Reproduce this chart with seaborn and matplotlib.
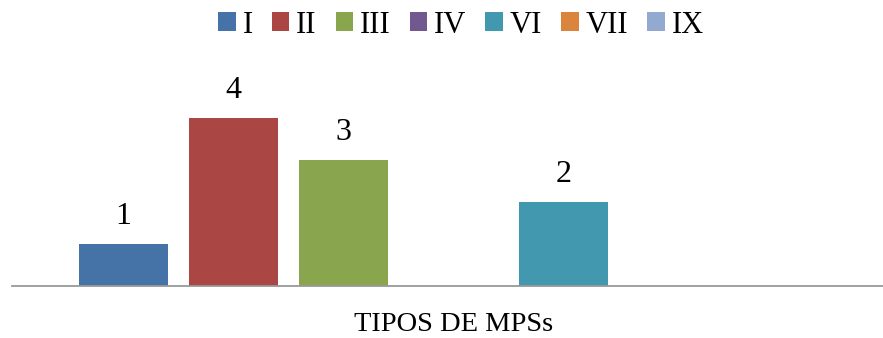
import matplotlib
matplotlib.use("Agg")
import matplotlib.pyplot as plt
import seaborn as sns
import pandas as pd

# Counts of each MPS type
category = "TIPOS DE MPSs"
types = ["I", "II", "III", "IV", "VI", "VII", "IX"]
counts = [1, 4, 3, 0, 2, 0, 0]
colors = ["#4572A7", "#AA4643", "#89A54E", "#71588F", "#4198AF", "#DB843D", "#93A9CF"]

df = pd.DataFrame({"grupo": [category] * len(types), "tipo": types, "n": counts})

sns.set_style("white")
plt.rcParams["font.family"] = ["Liberation Serif", "DejaVu Serif"]
plt.rcParams["text.color"] = "black"
plt.rcParams["xtick.color"] = "black"
plt.rcParams["xtick.labelcolor"] = "black"

W, H = 883, 338
fig = plt.figure(figsize=(W / 100, H / 100), dpi=100)
base_px = 285.5
ax = fig.add_axes([12 / W, (H - base_px) / H, 1 - 12 / W, 189 / H])

sns.barplot(data=df, x="grupo", y="n", hue="tipo", hue_order=types,
            palette=colors, width=0.8, gap=0.19, saturation=1,
            linewidth=0, ax=ax, legend=True)

ax.set_xlim(-0.4585, 0.4465)
ax.set_ylim(0, 4.5)

for cont, val in zip(ax.containers, counts):
    ax.bar_label(cont, labels=[str(val) if val else ""], padding=9,
                 fontsize=23, color="black")

handles, labels = ax.get_legend_handles_labels()
ax.get_legend().remove()
fig.legend(handles, labels, loc="upper center", bbox_to_anchor=(0.522, 1.05),
           ncol=7, frameon=False, fontsize=22, handlelength=0.58,
           handleheight=0.58, handletextpad=0.22, columnspacing=0.62)

for s in ["top", "left", "right"]:
    ax.spines[s].set_visible(False)
ax.spines["bottom"].set_color("#999999")
ax.spines["bottom"].set_linewidth(1.3)
ax.set_yticks([])
ax.set_xlabel("")
ax.set_ylabel("")
ax.tick_params(axis="x", length=0, pad=19, labelsize=20.5, labelcolor="black")

fig.savefig("out.png", dpi=100)
